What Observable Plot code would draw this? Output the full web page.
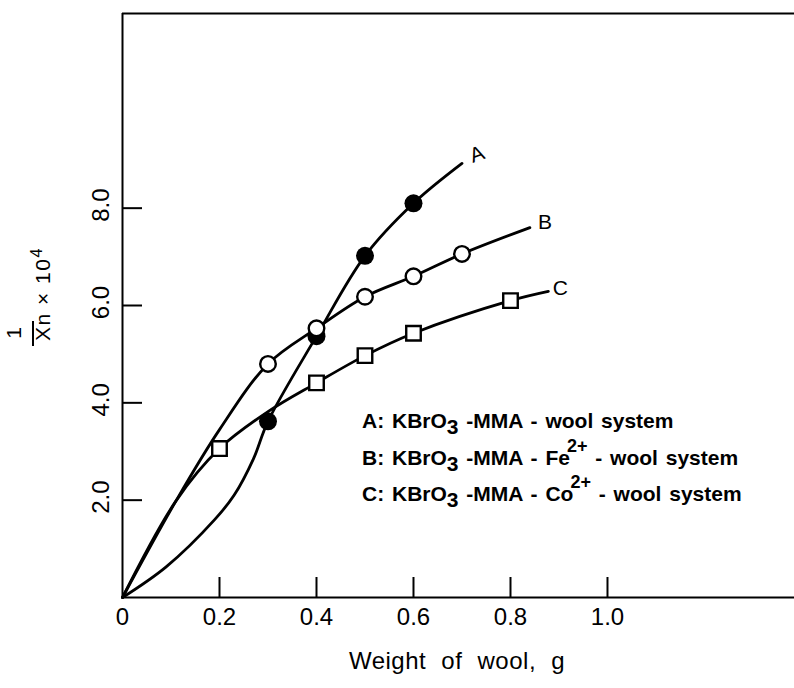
<!DOCTYPE html>
<html><head><meta charset="utf-8">
<script src="https://cdn.jsdelivr.net/npm/d3@7"></script>
<script src="https://cdn.jsdelivr.net/npm/@observablehq/plot@0.6"></script>
<style>body{margin:0;background:#fff} svg{display:block}</style>
</head><body><div id="chart"></div>
<script>
// ---- data ----
const seriesNames = ["A", "B", "C"];
// measured points (markers)
const xA = [0.3, 0.4, 0.5, 0.6];
const yA = [3.62, 5.37, 7.02, 8.10];
const xB = [0.3, 0.4, 0.5, 0.6, 0.7];
const yB = [4.80, 5.53, 6.18, 6.60, 7.06];
const xC = [0.2, 0.4, 0.5, 0.6, 0.8];
const yC = [3.06, 4.41, 4.97, 5.43, 6.10];
// hand-drawn smooth curves
const curveAx = [0, 0.09, 0.19, 0.23, 0.27, 0.3, 0.4, 0.5, 0.6, 0.7];
const curveAy = [0, 0.63, 1.6, 2.1, 2.85, 3.62, 5.37, 7.02, 8.10, 8.92];
const curveBx = [0, 0.11, 0.2, 0.3, 0.4, 0.5, 0.6, 0.7, 0.84];
const curveBy = [0, 1.98, 3.45, 4.80, 5.53, 6.18, 6.60, 7.06, 7.60];
const curveCx = [0, 0.11, 0.2, 0.3, 0.4, 0.5, 0.6, 0.8, 0.878];
const curveCy = [0, 1.98, 3.06, 3.82, 4.41, 4.97, 5.43, 6.10, 6.29];
// axes
const xTicks = [0, 0.2, 0.4, 0.6, 0.8, 1.0];
const xTickLabels = ["0", "0.2", "0.4", "0.6", "0.8", "1.0"];
const yTicks = [2, 4, 6, 8];
const yTickLabels = ["2.0", "4.0", "6.0", "8.0"];
const xMax = 1.3856, yMax = 12;
const xTitle = "Weight of wool, g";
// legend rows: [text, kind]
const legendRows = [
  [["A: KBrO", ""], ["3", "sub"], [" -MMA - wool system", ""]],
  [["B: KBrO", ""], ["3", "sub"], [" -MMA - Fe", ""], ["2+", "sup"], [" - wool system", ""]],
  [["C: KBrO", ""], ["3", "sub"], [" -MMA - Co", ""], ["2+", "sup"], [" - wool system", ""]]
];

// ---- build ----
const zip = (xs, ys) => xs.map((x, i) => ({x, y: ys[i]}));
const ptsA = zip(xA, yA), ptsB = zip(xB, yB), ptsC = zip(xC, yC);
const cA = zip(curveAx, curveAy), cB = zip(curveBx, curveBy), cC = zip(curveCx, curveCy);

const W = 794, H = 688, ML = 122, MR = 0, MT = 13, MB = 91;
const pxX = xMax / (W - ML - MR), pxY = yMax / (H - MT - MB);
const TICK = 20;
const FONT = "'Liberation Sans', Arial, sans-serif";
const LW = 2.8;

const chart = Plot.plot({
  width: W, height: H,
  marginLeft: ML, marginRight: MR, marginTop: MT, marginBottom: MB,
  x: {domain: [0, xMax], axis: null},
  y: {domain: [0, yMax], axis: null},
  style: {fontFamily: FONT, background: "white", color: "black"},
  marks: [
    Plot.ruleY([0, yMax], {stroke: "black", strokeWidth: 2}),
    Plot.ruleX([0], {stroke: "black", strokeWidth: 2}),
    Plot.ruleX(xTicks.slice(1), {x: d => d, y1: 0, y2: TICK * pxY, stroke: "black", strokeWidth: 2}),
    Plot.ruleY(yTicks, {y: d => d, x1: 0, x2: TICK * pxX, stroke: "black", strokeWidth: 2}),
    Plot.text(xTicks, {x: d => d, y: 0, text: (d, i) => xTickLabels[i], dy: 20, fontSize: 24}),
    Plot.text(yTicks, {x: 0, y: d => d, text: (d, i) => yTickLabels[i], dx: -21, dy: -3, rotate: -90, fontSize: 24}),
    Plot.line(cA, {x: "x", y: "y", curve: "catmull-rom", stroke: "black", strokeWidth: LW}),
    Plot.line(cB, {x: "x", y: "y", curve: "catmull-rom", stroke: "black", strokeWidth: LW}),
    Plot.line(cC, {x: "x", y: "y", curve: "catmull-rom", stroke: "black", strokeWidth: LW}),
    Plot.dot(ptsA, {x: "x", y: "y", r: 9, fill: "black", stroke: "none"}),
    Plot.dot(ptsB, {x: "x", y: "y", r: 7.8, fill: "white", stroke: "black", strokeWidth: 2.4}),
    Plot.dot(ptsC, {x: "x", y: "y", r: 8.2, symbol: "square", fill: "white", stroke: "black", strokeWidth: 2.4}),
    Plot.text([cA[cA.length - 1]], {x: "x", y: "y", text: () => seriesNames[0], dx: 15, dy: -9, rotate: -20, fontSize: 21}),
    Plot.text([cB[cB.length - 1]], {x: "x", y: "y", text: () => seriesNames[1], dx: 15, dy: -5, fontSize: 21}),
    Plot.text([cC[cC.length - 1]], {x: "x", y: "y", text: () => seriesNames[2], dx: 12, dy: -3, fontSize: 21})
  ]
});
document.getElementById("chart").appendChild(chart);

// ---- extra text with sub/superscripts ----
const svg = d3.select(chart);
// x-axis title
svg.append("text").attr("x", 457).attr("y", 669).attr("text-anchor", "middle")
  .attr("font-family", FONT).attr("font-size", 24).attr("word-spacing", 8).attr("letter-spacing", 0.5)
  .text(xTitle);

// y-axis title: 1 / X̄n × 10^4 (rotated)
const yt = svg.append("g").attr("transform", "rotate(-90)").attr("font-family", FONT).attr("fill", "black");
yt.append("text").attr("x", -333).attr("y", 21).attr("text-anchor", "middle").attr("font-size", 21).text("1");
yt.append("line").attr("x1", -346).attr("x2", -321).attr("y1", 33).attr("y2", 33).attr("stroke", "black").attr("stroke-width", 2);
const yl = yt.append("text").attr("x", -341).attr("y", 50).attr("text-anchor", "start").attr("font-size", 21).attr("letter-spacing", 1.5);
yl.append("tspan").text("Xn × 10");
yl.append("tspan").attr("dy", -8).attr("font-size", 16).text("4");

// legend
const lg = svg.append("g").attr("font-family", FONT).attr("font-size", 21).attr("font-weight", "bold").attr("text-anchor", "start");
const baselines = [428, 465, 501];
legendRows.forEach((row, r) => {
  const t = lg.append("text").attr("x", 362).attr("y", baselines[r]).attr("text-anchor", "start").attr("word-spacing", 2);
  let shift = 0;
  row.forEach(([s, kind]) => {
    const sp = t.append("tspan").text(s);
    let target = kind === "sub" ? 6 : kind === "sup" ? -13 : 0;
    sp.attr("dy", target - shift);
    shift = target;
    if (kind === "sup") sp.attr("font-size", 18).attr("dx", -3);
  });
});
</script></body></html>
